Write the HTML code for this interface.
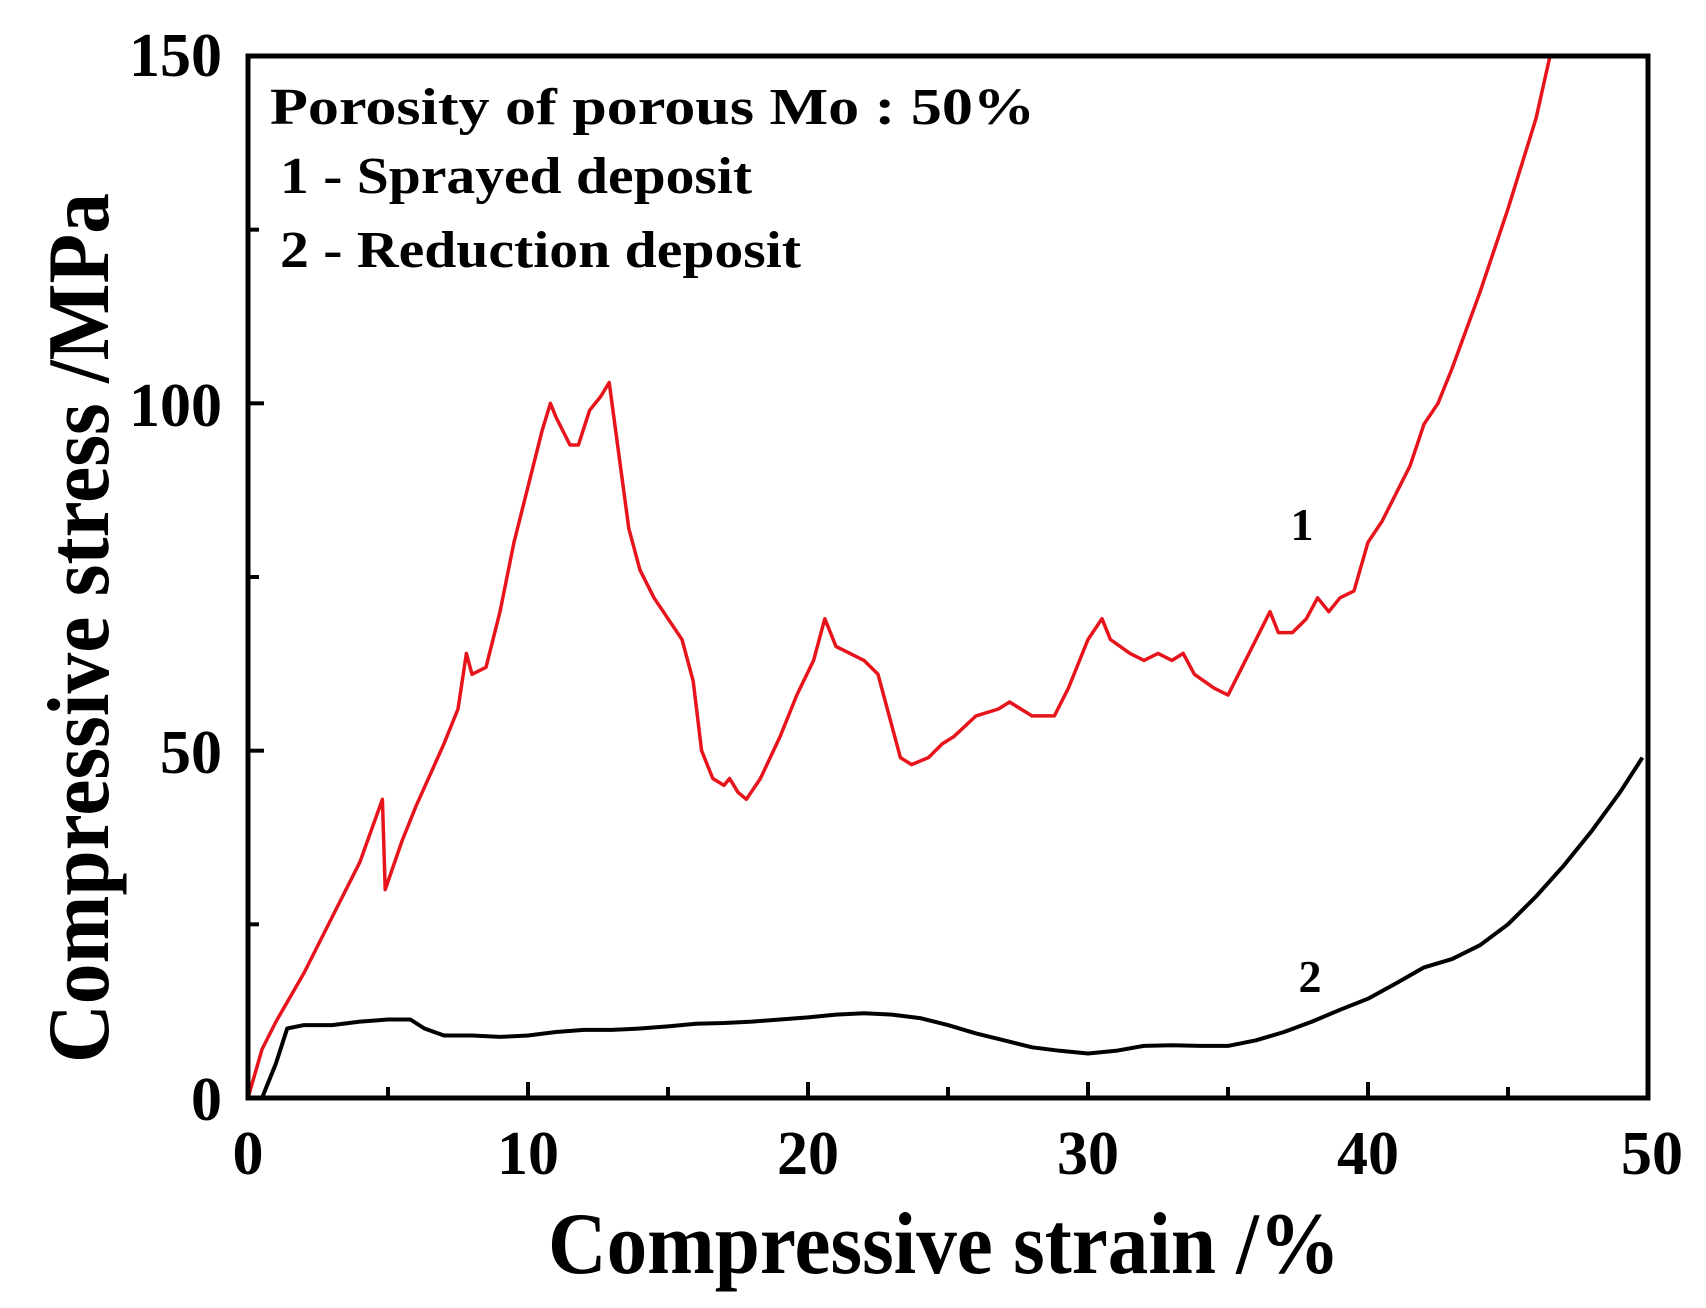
<!DOCTYPE html>
<html><head><meta charset="utf-8"><style>html,body{margin:0;padding:0;background:#fff}svg{display:block}</style></head>
<body>
<svg id="s" width="1706" height="1308" viewBox="0 0 1706 1308" xmlns="http://www.w3.org/2000/svg" font-family="Liberation Serif, serif" font-weight="bold">
<rect width="1706" height="1308" fill="#fff"/>
<g id="ticks" stroke="#000" stroke-width="4"></g>
<path id="red" fill="none" stroke="#e8141c" stroke-width="3.5" stroke-linejoin="round"/>
<path id="blk" fill="none" stroke="#000" stroke-width="4" stroke-linejoin="round"/>
<rect x="248" y="56" width="1400" height="1042" fill="none" stroke="#000" stroke-width="5"/>
<g font-size="62" text-anchor="end">
<text x="222" y="1120">0</text>
<text x="222" y="773">50</text>
<text x="222" y="426">100</text>
<text x="222" y="76">150</text>
</g>
<g font-size="62" text-anchor="middle">
<text x="248" y="1174">0</text>
<text x="528" y="1174">10</text>
<text x="808" y="1174">20</text>
<text x="1088" y="1174">30</text>
<text x="1368" y="1174">40</text>
<text x="1652" y="1174">50</text>
</g>
<text x="548" y="1273" font-size="88" textLength="792" lengthAdjust="spacingAndGlyphs">Compressive strain /%</text>
<text transform="translate(108,628) rotate(-90)" text-anchor="middle" font-size="88" textLength="870" lengthAdjust="spacingAndGlyphs">Compressive stress /MPa</text>
<text x="270" y="124" font-size="52" textLength="765" lengthAdjust="spacingAndGlyphs">Porosity of porous Mo : 50%</text>
<text x="280" y="193" font-size="52" textLength="472" lengthAdjust="spacingAndGlyphs">1 - Sprayed deposit</text>
<text x="280" y="267" font-size="52" textLength="521" lengthAdjust="spacingAndGlyphs">2 - Reduction deposit</text>
<text x="1302" y="540" font-size="46" text-anchor="middle">1</text>
<text x="1310" y="992" font-size="46" text-anchor="middle">2</text>
</svg>
<script>
function X(v){return 248+v*28}function Y(v){return 1098-v*1042/150}
var red=[0,0,0.5,7,1,11,2,18,3,26,4,34,4.8,43,4.9,30,5.5,37,6,42,7,51,7.5,56,7.8,64,8,61,8.5,62,9,70,9.5,80,10,88,10.5,96,10.8,100,11,98,11.5,94,11.8,94,12.2,99,12.6,101,12.9,103,13.3,91,13.6,82,14,76,14.5,72,15,69,15.5,66,15.9,60,16.2,50,16.6,46,17,45,17.2,46,17.5,44,17.8,43,18.3,46,19,52,19.6,58,20.2,63,20.6,69,21,65,21.5,64,22,63,22.5,61,22.9,55,23.3,49,23.7,48,24.3,49,24.8,51,25.2,52,26,55,26.8,56,27.2,57,27.6,56,28,55,28.8,55,29.3,59,30,66,30.5,69,30.8,66,31.5,64,32,63,32.5,64,33,63,33.4,64,33.8,61,34.5,59,35,58,35.5,62,36,66,36.5,70,36.8,67,37.3,67,37.8,69,38.2,72,38.6,70,39,72,39.5,73,40,80,40.5,83,41,87,41.5,91,42,97,42.5,100,43,105,44,116,45,128,46,141,46.5,150];
var blk=[0.5,0,1,5,1.4,10,2,10.5,3,10.5,4,11,5,11.3,5.8,11.3,6.3,10,7,9,8,9,9,8.8,10,9,11,9.5,12,9.8,13,9.8,14,10,15,10.3,16,10.7,17,10.8,18,11,19,11.3,20,11.6,21,12,22,12.2,23,12,24,11.5,25,10.5,26,9.3,27,8.3,28,7.3,29,6.8,30,6.4,31,6.8,32,7.5,33,7.6,34,7.5,35,7.5,36,8.3,37,9.5,38,11,39,12.7,40,14.3,41,16.5,42,18.8,43,20,44,22,45,25,46,29,47,33.5,48,38.5,49,44,49.8,49];
function P(a){var d='';for(var i=0;i<a.length;i+=2)d+=(i?'L':'M')+X(a[i]).toFixed(1)+' '+Y(a[i+1]).toFixed(1);return d}
document.getElementById('red').setAttribute('d',P(red));
document.getElementById('blk').setAttribute('d',P(blk));
var t='';
for(var v=5;v<50;v+=5){var L=(v%10==0)?16:11;t+='<line x1="'+X(v)+'" y1="1098" x2="'+X(v)+'" y2="'+(1098-L)+'"/>';}
for(var w=25;w<150;w+=25){var L2=(w%50==0)?16:11;t+='<line x1="248" y1="'+Y(w)+'" x2="'+(248+L2)+'" y2="'+Y(w)+'"/>';}
document.getElementById('ticks').innerHTML=t;
</script>
</body></html>
